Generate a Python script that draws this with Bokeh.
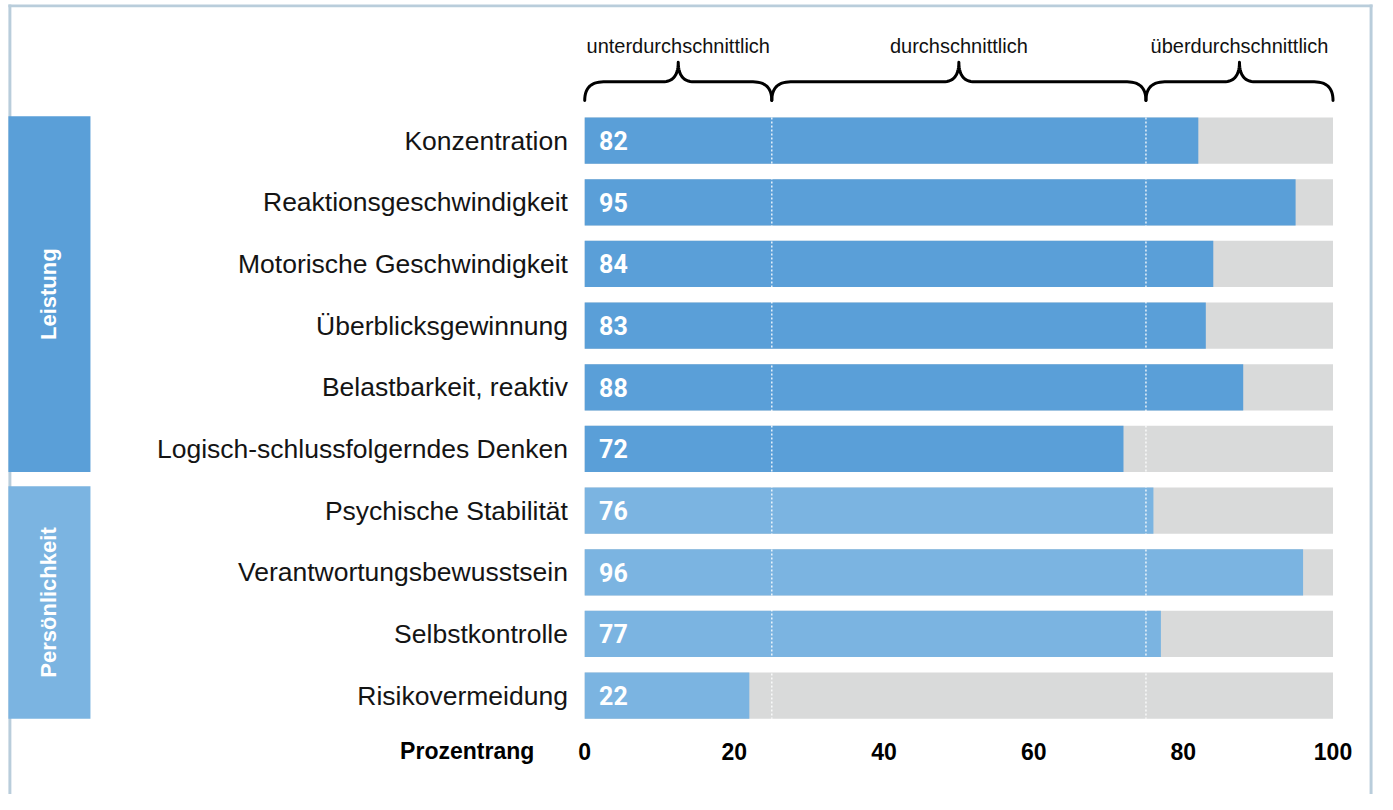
import numpy as np
from bokeh.plotting import figure
from bokeh.models import Range1d, ColumnDataSource
from bokeh.core.properties import value
from bokeh.embed import file_html
from bokeh.resources import INLINE

# ---------------- data ----------------
categories = [
    "Konzentration",
    "Reaktionsgeschwindigkeit",
    "Motorische Geschwindigkeit",
    "Überblicksgewinnung",
    "Belastbarkeit, reaktiv",
    "Logisch-schlussfolgerndes Denken",
    "Psychische Stabilität",
    "Verantwortungsbewusstsein",
    "Selbstkontrolle",
    "Risikovermeidung",
]
scores = [82, 95, 84, 83, 88, 72, 76, 96, 77, 22]
groups = ["Leistung"] * 6 + ["Persönlichkeit"] * 4
group_names = ["Leistung", "Persönlichkeit"]
band_edges = [0, 25, 75, 100]
band_labels = ["unterdurchschnittlich", "durchschnittlich", "überdurchschnittlich"]
tick_values = [0, 20, 40, 60, 80, 100]
axis_title = "Prozentrang"

# ---------------- styling / layout ----------------
W, H = 1377, 794
REF_W, REF_H = 1393, 810
PX0, PX100 = 591, 1348  # layout x of 0 and 100
KX = (PX100 - PX0) / 100.0
ROW0_Y, PITCH = 143, 62.9
BAR_H = 0.75
COL = {"Leistung": "#5a9fd8", "Persönlichkeit": "#7bb4e1"}
GRAY = "#d9dada"
FRAME = "#b9cddb"
SANS = "Liberation Sans"


def X(px):
    return (px - PX0) / KX


def Y(py):
    return (ROW0_Y - py) / PITCH


p = figure(
    width=W, height=H,
    x_range=Range1d(X(0), X(REF_W)),
    y_range=Range1d(Y(REF_H), Y(0)),
    output_backend="svg", toolbar_location=None,
    x_axis_location=None, y_axis_location=None,
    min_border=0, outline_line_color=None,
)
p.grid.visible = False
p.background_fill_color = "white"
p.border_fill_color = "white"

n = len(categories)
ys = -np.arange(n, dtype=float)
colors = [COL[g] for g in groups]

# frame
p.quad(left=[X(8), X(8), X(1385)], right=[X(11), X(1388), X(1388)],
       top=[Y(4), Y(4), Y(4)], bottom=[Y(812), Y(7), Y(812)],
       fill_color=FRAME, line_color=None)

# group boxes
for g in group_names:
    idx = [i for i, gg in enumerate(groups) if gg == g]
    top = ys[idx[0]] + BAR_H / 2 + 0.02
    bot = ys[idx[-1]] - BAR_H / 2
    p.quad(left=X(8), right=X(91), top=top, bottom=bot,
           fill_color=COL[g], line_color=None)
    p.text(x=[X(49)], y=[(top + bot) / 2], text=[g], angle=np.pi / 2,
           text_font=value(SANS), text_font_style="bold", text_font_size="22px",
           text_color="white", text_align="center", text_baseline="middle")

# bars
src = ColumnDataSource(dict(y=ys, score=scores, color=colors, cat=categories,
                            lab=[str(s) for s in scores]))
p.hbar(y="y", left=0, right=100, height=BAR_H, source=src,
       fill_color=GRAY, line_color=None)
p.hbar(y="y", left=0, right="score", height=BAR_H, source=src,
       fill_color="color", line_color=None)

# dotted band boundaries
inner = band_edges[1:-1]
p.segment(x0=inner, x1=inner, y0=[ys[0] + BAR_H / 2] * len(inner),
          y1=[ys[-1] - BAR_H / 2] * len(inner),
          line_color="white", line_width=1.5, line_dash="2 2", line_alpha=0.85)

# value labels
p.text(x=X(605.5), y="y", text="lab", source=src,
       text_font=value("Roboto"), text_font_style="bold", text_font_size="25px",
       text_color="white", text_align="left", text_baseline="middle")

# category labels
p.text(x=X(574), y="y", text="cat", source=src,
       text_font=value(SANS), text_font_size="26.5px",
       text_color="#141414", text_align="right", text_baseline="middle")


# braces
def qbez(p0, c, p1, m=16):
    t = np.linspace(0, 1, m)[:, None]
    return (1 - t) ** 2 * np.array(p0) + 2 * (1 - t) * t * np.array(c) + t ** 2 * np.array(p1)


YB, YH, YT = 102, 83, 63
RE, RT = 19, 16
bxs, bys = [], []
for a, b in zip(band_edges[:-1], band_edges[1:]):
    ax_, bx_ = PX0 + a * KX, PX0 + b * KX
    mx = (ax_ + bx_) / 2
    segs = [
        qbez((ax_, YB), (ax_, YH), (ax_ + RE, YH)),
        qbez((mx - RT, YH), (mx, YH), (mx, YT)),
        qbez((mx, YT), (mx, YH), (mx + RT, YH)),
        qbez((bx_ - RE, YH), (bx_, YH), (bx_, YB)),
    ]
    pts = np.vstack(segs)
    bxs.append([X(v) for v in pts[:, 0]])
    bys.append([Y(v) for v in pts[:, 1]])
p.multi_line(bxs, bys, line_color="black", line_width=3,
             line_join="round", line_cap="round")

mids = [(a + b) / 2 for a, b in zip(band_edges[:-1], band_edges[1:])]
p.text(x=mids, y=[Y(46)] * len(mids), text=band_labels,
       text_font=value(SANS), text_font_size="20px", text_color="#111111",
       text_align="center", text_baseline="middle")

# x tick labels and title
p.text(x=tick_values, y=[Y(766)] * len(tick_values), text=[str(t) for t in tick_values],
       text_font=value(SANS), text_font_style="bold", text_font_size="23px",
       text_color="black", text_align="center", text_baseline="middle")
p.text(x=[X(540)], y=[Y(766)], text=[axis_title],
       text_font=value(SANS), text_font_style="bold", text_font_size="23px",
       text_color="black", text_align="right", text_baseline="middle")

open("out.html", "w").write(file_html(p, INLINE))
